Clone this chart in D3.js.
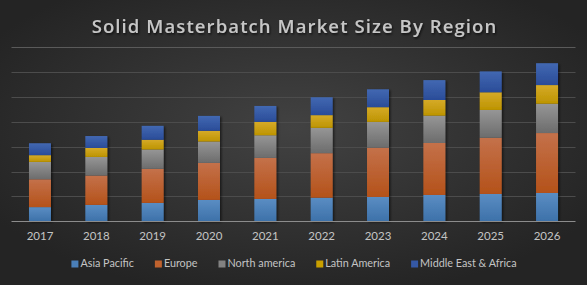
<!DOCTYPE html>
<html>
<head>
<meta charset="utf-8">
<script src="https://cdn.jsdelivr.net/npm/d3@7"></script>
<style>
html,body{margin:0;padding:0;background:#2a2a2a;}
svg{display:block;}
</style>
</head>
<body>
<svg id="chart" width="587" height="285"></svg>
<script>
const years = ["2017","2018","2019","2020","2021","2022","2023","2024","2025","2026"];
const seriesNames = ["Asia Pacific","Europe","North america","Latin America","Middle East & Africa"];
const asiaPacific = [0.57,0.66,0.74,0.86,0.90,0.95,0.98,1.06,1.10,1.14];
const europe      = [1.12,1.18,1.37,1.49,1.65,1.79,1.98,2.09,2.26,2.41];
const northAmerica= [0.70,0.75,0.78,0.86,0.91,1.02,1.04,1.10,1.12,1.18];
const latinAmerica= [0.27,0.36,0.39,0.43,0.54,0.51,0.59,0.63,0.71,0.75];
const middleEast  = [0.48,0.48,0.56,0.60,0.64,0.72,0.72,0.80,0.84,0.88];
const yTicks = [0,1,2,3,4,5,6,7];
const title = "Solid Masterbatch Market Size By Region";

const W = 587, H = 285;
const colors = [
  ["#5a8dc3","#3d71a9"],
  ["#c4714a","#b4521a"],
  ["#969696","#6c6c6c"],
  ["#d5aa28","#bd9400"],
  ["#4268b2","#2a4c98"]
];
const legendColors = ["#4a7fb8","#c0622e","#828282","#c9a000","#3558a5"];

const svg = d3.select("#chart");
const defs = svg.append("defs");
const bg = defs.append("radialGradient").attr("id","bg")
  .attr("cx","50%").attr("cy","45%").attr("r","60%");
bg.append("stop").attr("offset","0%").attr("stop-color","#424242");
bg.append("stop").attr("offset","100%").attr("stop-color","#242424");
colors.forEach((c,i)=>{
  const g = defs.append("linearGradient").attr("id","g"+i)
    .attr("x1",0).attr("y1",0).attr("x2",0).attr("y2",1);
  g.append("stop").attr("offset","0%").attr("stop-color",c[0]);
  g.append("stop").attr("offset","100%").attr("stop-color",c[1]);
});
const sh = defs.append("filter").attr("id","sh").attr("x","-20%").attr("y","-20%").attr("width","150%").attr("height","150%");
sh.append("feDropShadow").attr("dx",1.5).attr("dy",1).attr("stdDeviation",1.2).attr("flood-color","#000").attr("flood-opacity",0.55);
const tsh = defs.append("filter").attr("id","tsh");
tsh.append("feDropShadow").attr("dx",1).attr("dy",1.5).attr("stdDeviation",1).attr("flood-color","#000").attr("flood-opacity",0.7);

svg.append("rect").attr("width",W).attr("height",H).attr("fill","url(#bg)");

const x = d3.scaleBand().domain(years).range([11.8,575.2]).paddingInner(0.61).paddingOuter(0.305);
const y = d3.scaleLinear().domain([0,7]).range([221.3,47.3]);

// gridlines
svg.append("g").selectAll("line").data(yTicks.slice(1)).join("line")
  .attr("x1",11.5).attr("x2",575.5)
  .attr("y1",d=>Math.round(y(d))+0.5).attr("y2",d=>Math.round(y(d))+0.5)
  .attr("stroke",d=>d===7?"#5a5a5a":"#4c4c4c").attr("stroke-width",1);

// stacked data
const rows = years.map((yr,i)=>({year:yr, s0:asiaPacific[i], s1:europe[i], s2:northAmerica[i], s3:latinAmerica[i], s4:middleEast[i]}));
const stack = d3.stack().keys(["s0","s1","s2","s3","s4"])(rows);

const barsG = svg.append("g").attr("filter","url(#sh)");
stack.forEach((layer,li)=>{
  barsG.append("g").selectAll("rect").data(layer).join("rect")
    .attr("x",d=>x(d.data.year))
    .attr("width",x.bandwidth())
    .attr("y",d=>y(d[1]))
    .attr("height",d=>y(d[0])-y(d[1]))
    .attr("fill","url(#g"+li+")");
});

// axis
const xAxis = svg.append("g").attr("transform","translate(0,"+(Math.round(y(0))+0.5)+")")
  .call(d3.axisBottom(x).tickSize(0).tickPadding(10));
xAxis.select(".domain").attr("stroke","#8c8c8c").attr("d","M11.5,0H575.5");
xAxis.selectAll("text").attr("fill","#c4c4c4").attr("font-family","Lato, 'Open Sans', sans-serif").attr("font-size","11.5px");

// title
svg.append("text").attr("x",294.5).attr("y",32.5).attr("text-anchor","middle")
  .attr("font-family","'Open Sans', sans-serif").attr("font-weight","600")
  .attr("font-size","18.5px").attr("letter-spacing","1.1px")
  .attr("fill","#c6c6c6").attr("filter","url(#tsh)").text(title);

// legend
const lg = svg.append("g");
const items = lg.selectAll("g").data(seriesNames).join("g");
items.append("rect").attr("width",7).attr("height",7).attr("y",-6.5).attr("fill",(d,i)=>legendColors[i]);
items.append("text").attr("x",9).attr("y",0).attr("fill","#c4c4c4")
  .attr("font-family","Lato, 'Open Sans', sans-serif").attr("font-size","10.8px").text(d=>d);
let pos = 0; const gap = 21; const offs = [];
items.each(function(d,i){
  const w = 9 + d3.select(this).select("text").node().getComputedTextLength();
  offs.push(pos); pos += w + gap;
});
const total = pos - gap;
const start = 294 - total/2;
items.attr("transform",(d,i)=>"translate("+(start+offs[i])+",267)");
</script>
</body>
</html>
